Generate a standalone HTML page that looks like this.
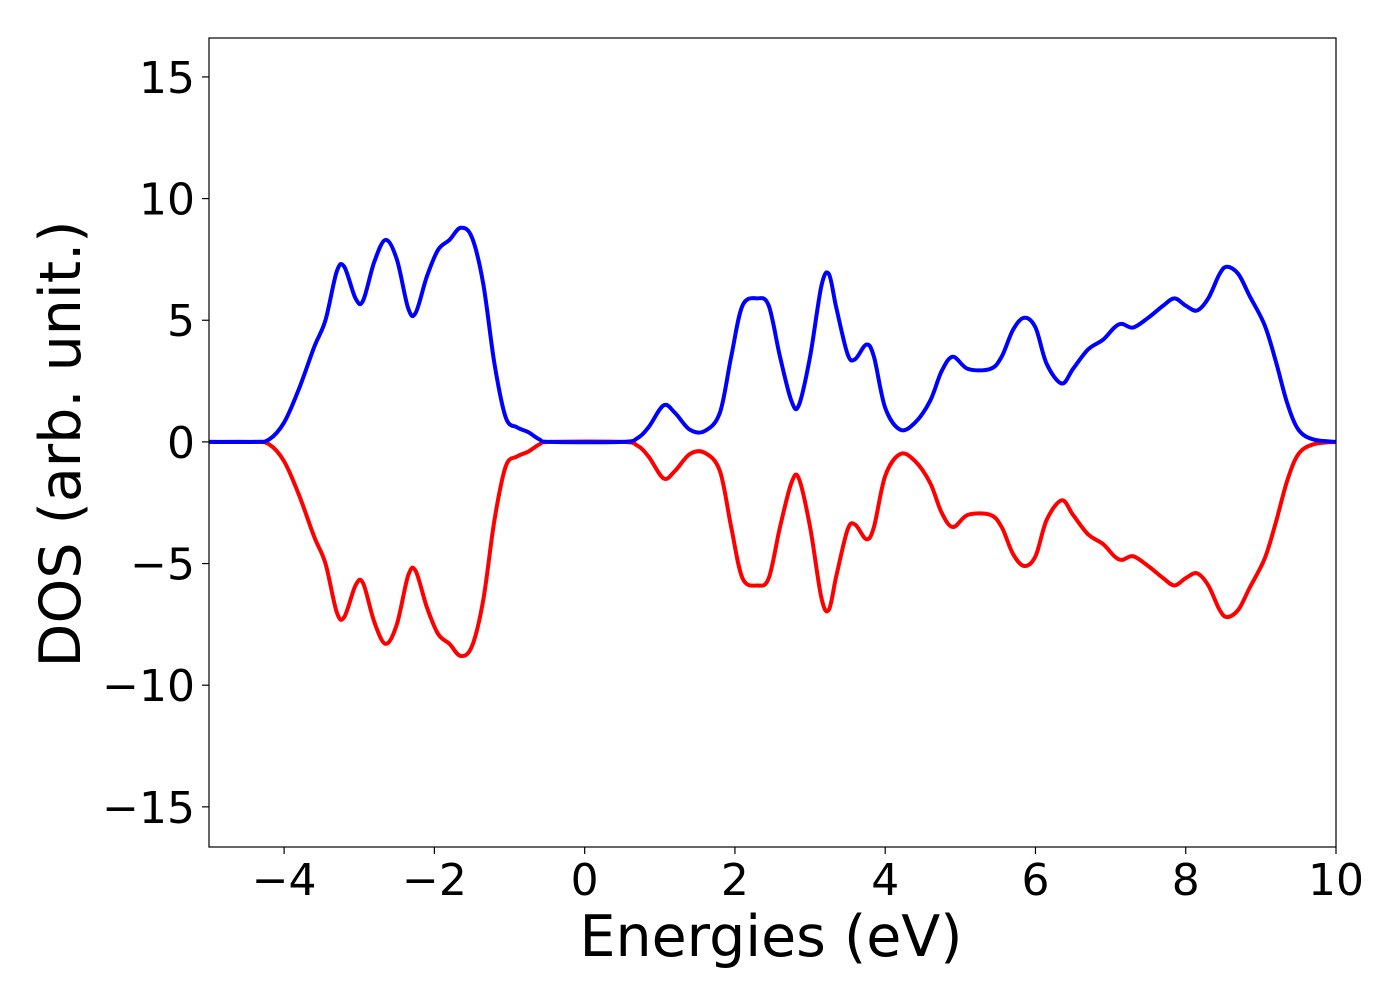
<!DOCTYPE html>
<html><head><meta charset="utf-8"><style>
html,body{margin:0;padding:0;background:#fff}
svg{display:block;font-family:"DejaVu Sans","Liberation Sans",sans-serif}
</style></head><body>
<svg id="chart" width="1400" height="1000" viewBox="0 0 1400 1000" xmlns="http://www.w3.org/2000/svg">
<rect width="1400" height="1000" fill="#fff"/>
<g id="plot"></g>
<g id="axes"></g>
<text x="771" y="956" font-size="57" text-anchor="middle">Energies (eV)</text>
<text transform="translate(80,444) rotate(-90)" font-size="57" text-anchor="middle">DOS (arb. unit.)</text>
</svg>
<script>
const energies = [-5,-4.4,-4.2,-4.0,-3.8,-3.6,-3.45,-3.3,-3.2,-3.05,-2.95,-2.8,-2.65,-2.5,-2.35,-2.25,-2.1,-1.95,-1.8,-1.65,-1.5,-1.35,-1.2,-1.05,-0.9,-0.75,-0.6,-0.45,0.5,0.7,0.85,1.05,1.2,1.4,1.6,1.8,1.95,2.1,2.3,2.45,2.6,2.75,2.85,3.0,3.15,3.25,3.35,3.5,3.6,3.75,3.85,4.0,4.2,4.4,4.6,4.75,4.9,5.1,5.4,5.55,5.7,5.85,6.0,6.15,6.35,6.5,6.7,6.9,7.05,7.15,7.3,7.5,7.7,7.85,8.0,8.15,8.3,8.45,8.55,8.7,8.85,9.05,9.2,9.35,9.5,9.7,10];
const dosUp = [0,0,0.1,0.8,2.2,3.9,5.0,7.0,7.2,5.9,5.8,7.4,8.3,7.5,5.5,5.3,6.8,7.9,8.3,8.8,8.4,6.5,3.2,1.0,0.6,0.4,0.1,0,0,0.15,0.6,1.5,1.2,0.5,0.45,1.2,3.5,5.6,5.9,5.6,3.5,1.7,1.5,3.5,6.4,6.9,5.5,3.6,3.4,4.0,3.5,1.4,0.5,0.8,1.7,2.9,3.5,3.0,3.0,3.5,4.6,5.1,4.7,3.2,2.4,3.0,3.8,4.2,4.7,4.85,4.7,5.1,5.6,5.9,5.6,5.4,5.9,6.9,7.2,6.9,6.0,4.8,3.3,1.6,0.5,0.1,0];
const dosDown = [0,0,-0.1,-0.8,-2.2,-3.9,-5.0,-7.0,-7.2,-5.9,-5.8,-7.4,-8.3,-7.5,-5.5,-5.3,-6.8,-7.9,-8.3,-8.8,-8.4,-6.5,-3.2,-1.0,-0.6,-0.4,-0.1,0,0,-0.15,-0.6,-1.5,-1.2,-0.5,-0.45,-1.2,-3.5,-5.6,-5.9,-5.6,-3.5,-1.7,-1.5,-3.5,-6.4,-6.9,-5.5,-3.6,-3.4,-4.0,-3.5,-1.4,-0.5,-0.8,-1.7,-2.9,-3.5,-3.0,-3.0,-3.5,-4.6,-5.1,-4.7,-3.2,-2.4,-3.0,-3.8,-4.2,-4.7,-4.85,-4.7,-5.1,-5.6,-5.9,-5.6,-5.4,-5.9,-6.9,-7.2,-6.9,-6.0,-4.8,-3.3,-1.6,-0.5,-0.1,0];
const xTicks = [-4,-2,0,2,4,6,8,10];
const yTicks = [-15,-10,-5,0,5,10,15];

const X0=209,X1=1336,Y0=38,Y1=847;
const xMin=-5,xMax=10,yMin=-16.65,yMax=16.6;
const xs=v=>X0+(v-xMin)/(xMax-xMin)*(X1-X0);
const ys=v=>Y1-(v-yMin)/(yMax-yMin)*(Y1-Y0);
const NS="http://www.w3.org/2000/svg";
const plot=document.getElementById('plot'), axes=document.getElementById('axes');
const fmt=v=>v<0?'\u2212'+Math.abs(v):String(v);

function pathFor(xv,yv){
  const p=xv.map((x,i)=>[xs(x),ys(yv[i])]);
  let d=`M${p[0][0]},${p[0][1]}`;
  for(let i=0;i<p.length-1;i++){
    const a=p[Math.max(0,i-1)],b=p[i],c=p[i+1],e=p[Math.min(p.length-1,i+2)];
    const c1=[b[0]+(c[0]-a[0])/6,b[1]+(c[1]-a[1])/6];
    const c2=[c[0]-(e[0]-b[0])/6,c[1]-(e[1]-b[1])/6];
    d+=` C${c1[0]},${c1[1]} ${c2[0]},${c2[1]} ${c[0]},${c[1]}`;
  }
  return d;
}
function line(vals,color,name){
  const el=document.createElementNS(NS,'path');
  el.setAttribute('d',pathFor(energies,vals));
  el.setAttribute('fill','none');el.setAttribute('stroke',color);
  el.setAttribute('stroke-width','4');el.setAttribute('stroke-linejoin','round');
  
  
  plot.appendChild(el);
}
line(dosDown,'#ff0000','dos-spin-down-line');
line(dosUp,'#0000ff','dos-spin-up-line');

const frame=document.createElementNS(NS,'rect');
frame.setAttribute('x',X0);frame.setAttribute('y',Y0);
frame.setAttribute('width',X1-X0);frame.setAttribute('height',Y1-Y0);
frame.setAttribute('fill','none');frame.setAttribute('stroke','#000');frame.setAttribute('stroke-width','1.2');


axes.appendChild(frame);

xTicks.forEach(v=>{
  const x=xs(v);
  const t=document.createElementNS(NS,'line');
  t.setAttribute('x1',x);t.setAttribute('x2',x);t.setAttribute('y1',Y1);t.setAttribute('y2',Y1+7);
  t.setAttribute('stroke','#000');t.setAttribute('stroke-width','1.2');
  
  
  axes.appendChild(t);
  const l=document.createElementNS(NS,'text');
  l.setAttribute('x',x);l.setAttribute('y',895);l.setAttribute('font-size','44');l.setAttribute('text-anchor','middle');
  l.textContent=fmt(v);
  
  
  axes.appendChild(l);
});
yTicks.forEach(v=>{
  const y=ys(v);
  const t=document.createElementNS(NS,'line');
  t.setAttribute('x1',X0-7);t.setAttribute('x2',X0);t.setAttribute('y1',y);t.setAttribute('y2',y);
  t.setAttribute('stroke','#000');t.setAttribute('stroke-width','1.2');
  
  
  axes.appendChild(t);
  const l=document.createElementNS(NS,'text');
  l.setAttribute('x',195);l.setAttribute('y',y+16);l.setAttribute('font-size','44');l.setAttribute('text-anchor','end');
  l.textContent=fmt(v);
  
  
  axes.appendChild(l);
});
</script>
</body></html>
